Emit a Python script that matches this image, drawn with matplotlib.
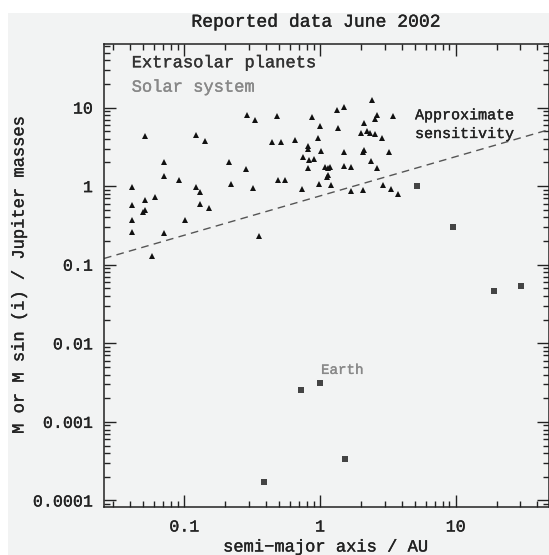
import matplotlib
matplotlib.use("Agg")
import matplotlib.pyplot as plt
import matplotlib.patheffects as pe
from matplotlib.patches import Rectangle
from matplotlib.ticker import FixedLocator, FixedFormatter, LogLocator, NullFormatter

# ---- data ----
exo_a = [0.041, 0.041, 0.041, 0.041, 0.051, 0.051, 0.050, 0.051, 0.061, 0.058,
         0.0713, 0.0713, 0.0713, 0.0914, 0.101, 0.121, 0.141, 0.121, 0.131, 0.131,
         0.151, 0.212, 0.222, 0.283, 0.291, 0.333, 0.322, 0.355, 0.44, 0.513,
         0.482, 0.493, 0.555, 0.651, 0.736,
         0.88, 1.0, 0.97, 0.82, 0.81, 1.01, 0.754, 0.834, 0.90, 0.82,
         1.08, 1.18, 1.15, 1.15, 1.12, 0.98, 1.20, 1.34, 1.49, 1.36,
         1.49, 1.50, 1.68, 1.68, 2.08, 2.0, 2.11, 2.23, 2.34, 2.54,
         2.12, 2.08, 2.38, 2.65, 2.40, 2.65, 2.54, 2.85, 3.47, 3.22,
         2.93, 3.33, 3.78]
exo_m = [0.97, 0.57, 0.367, 0.26, 4.39, 0.67, 0.47, 0.50, 0.73, 0.128,
         2.0, 1.36, 0.254, 1.21, 0.375, 4.48, 3.76, 0.98, 0.84, 0.60,
         0.52, 2.0, 1.05, 1.65, 8.1, 6.9, 0.94, 0.235, 3.6, 3.6,
         7.9, 1.21, 1.21, 3.83, 0.93,
         7.6, 5.9, 4.1, 3.27, 2.97, 2.77, 2.35, 2.17, 2.24, 1.70,
         1.73, 1.73, 1.70, 1.40, 1.31, 1.07, 1.04, 9.2, 10.2, 5.5,
         2.69, 1.79, 1.75, 0.86, 0.88, 4.75, 6.4, 5.1, 4.75, 4.6,
         2.91, 2.69, 2.11, 1.70, 12.6, 8.1, 7.2, 4.1, 7.9, 2.69,
         1.04, 0.93, 0.80]

solar_names = ["Mercury", "Venus", "Earth", "Mars", "Jupiter", "Saturn", "Uranus", "Neptune"]
solar_a = [0.387, 0.723, 1.0, 1.524, 5.2, 9.54, 19.2, 30.1]
solar_m = [1.74e-4, 2.56e-3, 3.15e-3, 3.38e-4, 1.0, 0.299, 0.0457, 0.054]

sens_a = [0.0256, 50.0]
sens_m = [0.12, 5.3]

y_ticks = [0.0001, 0.001, 0.01, 0.1, 1, 10]
y_tick_labels = ["0.0001", "0.001", "0.01", "0.1", "1", "10"]
x_ticks = [0.1, 1, 10]
x_tick_labels = ["0.1", "1", "10"]

# ---- figure ----
W, H = 549, 555
bg = "#f2f3f3"
fig = plt.figure(figsize=(W / 100, H / 100), dpi=100, facecolor="white")
fig.patches.append(Rectangle((8 / W, 0), 1, 1 - 12.7 / H, transform=fig.transFigure,
                             facecolor=bg, edgecolor="none", zorder=-10))

ax = fig.add_axes([104 / W, 48 / H, 445 / W, 463 / H])
ax.set_facecolor(bg)
ax.set_xscale("log")
ax.set_yscale("log")
ax.set_xlim(0.02559, 48.7)
ax.set_ylim(8.26e-5, 64.3)

font = ["Liberation Mono", "DejaVu Sans Mono"]


def thick(color):
    return [pe.withStroke(linewidth=0.25, foreground=color)]


ax.plot(sens_a, sens_m, linestyle=(0, (5.5, 3.8)), color="#555555", linewidth=1.0, zorder=2)
ax.plot(exo_a, exo_m, linestyle="none", marker="^", markersize=5.0,
        color="#111111", markeredgewidth=0, zorder=3)
ax.plot(solar_a, solar_m, linestyle="none", marker="s", markersize=4.0,
        color="#444444", markeredgewidth=0, zorder=3)

# ticks
ax.xaxis.set_major_locator(FixedLocator(x_ticks))
ax.xaxis.set_major_formatter(FixedFormatter(x_tick_labels))
ax.xaxis.set_minor_locator(LogLocator(base=10, subs=range(2, 10), numticks=20))
ax.xaxis.set_minor_formatter(NullFormatter())
ax.yaxis.set_major_locator(FixedLocator(y_ticks))
ax.yaxis.set_major_formatter(FixedFormatter(y_tick_labels))
ax.yaxis.set_minor_locator(LogLocator(base=10, subs=range(2, 10), numticks=20))
ax.yaxis.set_minor_formatter(NullFormatter())

ax.tick_params(which="both", direction="in", top=True, right=True, color="#222222",
               width=1.0)
ax.tick_params(which="major", length=8.6)
ax.tick_params(which="minor", length=4.3)
ax.tick_params(axis="x", which="major", pad=9, labelsize=12, labelcolor="#222222")
ax.tick_params(axis="y", which="major", pad=8, labelsize=12, labelcolor="#222222")
for lab in ax.get_xticklabels() + ax.get_yticklabels():
    lab.set_family(font)
    lab.set_path_effects(thick("#222222"))
for s in ax.spines.values():
    s.set_linewidth(1.1)
    s.set_color("#222222")

# texts
ax.text(0.0622, 0.9497, "Extrasolar planets", transform=ax.transAxes, family=font,
        fontsize=12.3, color="#333333", va="baseline", ha="left",
        path_effects=thick("#333333"))
ax.text(0.0622, 0.897, "Solar system", transform=ax.transAxes, family=font,
        fontsize=12.3, color="#888888", va="baseline", ha="left",
        path_effects=thick("#888888"))
ax.text(0.699, 0.8374, "Approximate", transform=ax.transAxes, family=font,
        fontsize=10.8, color="#222222", va="baseline", ha="left",
        path_effects=thick("#222222"))
ax.text(0.699, 0.797, "sensitivity", transform=ax.transAxes, family=font,
        fontsize=10.8, color="#222222", va="baseline", ha="left",
        path_effects=thick("#222222"))
ax.text(1.017, 0.00408, "Earth", family=font, fontsize=10.2, color="#888888",
        va="baseline", ha="left", path_effects=thick("#888888"))

fig.text(315 / W, 1 - 26.7 / H, "Reported data June 2002", family=font, fontsize=13,
         color="#222222", ha="center", va="baseline", path_effects=thick("#222222"))
fig.text(325.6 / W, 3.5 / H, "semi\u2212major axis / AU", family=font, fontsize=12.3,
         color="#222222", ha="center", va="baseline", path_effects=thick("#222222"))
fig.text(19 / W, 1 - 275 / H, "M or M sin (i) / Jupiter masses", family=font,
         fontsize=12.3, color="#222222", ha="center", va="center", rotation=90,
         path_effects=thick("#222222"))

fig.savefig("out.png", dpi=100, facecolor="white")
